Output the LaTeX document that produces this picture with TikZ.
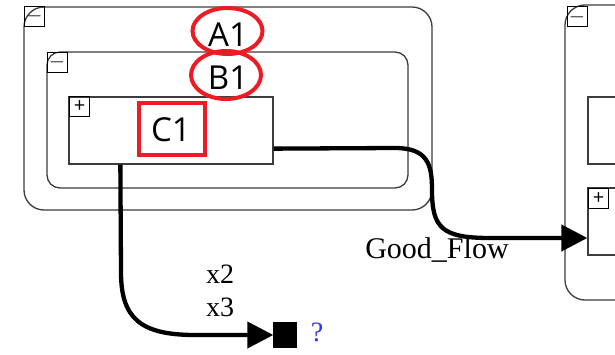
\documentclass[tikz,border=0pt]{standalone}
\usepackage{fontspec}
\setmainfont{Liberation Serif}
\newfontfamily\uifont{Open Sans}
\usetikzlibrary{arrows.meta,calc}
\definecolor{boxline}{RGB}{60,60,60}
\definecolor{markred}{RGB}{237,28,36}
\definecolor{qblue}{RGB}{50,50,255}
\tikzset{
  group/.style={draw=boxline,line width=1.3pt,inner sep=0pt},
  toggle/.style={draw=black,line width=1pt,minimum width=20pt,minimum height=20pt,inner sep=0pt,font=\uifont\fontsize{20}{20}\selectfont},
  bigname/.style={font=\uifont\fontsize{33}{33}\selectfont,inner sep=0pt},
  flow/.style={line width=4.3pt,-{Triangle[length=26pt,width=26pt]}},
  flowlabel/.style={font=\fontsize{28}{28}\selectfont,inner sep=0pt}
}
\begin{document}
\begin{tikzpicture}[x=1pt,y=-1pt]
\useasboundingbox (0,0) rectangle (615,355);
\clip (0,0) rectangle (615,355);
% groups
\node[group,rounded corners=20pt,minimum width=408pt,minimum height=203pt] (A) at (228,108.5) {};
\node[group,rounded corners=13pt,minimum width=361pt,minimum height=136pt] (B) at (227.5,120) {};
\node[group,minimum width=204pt,minimum height=67pt] (C) at (171,130.5) {};
\node[group,rounded corners=20pt,minimum width=100pt,minimum height=295pt] (R) at (615,152.5) {};
\node[group,minimum width=80pt,minimum height=67pt] (R1) at (628,130.5) {};
\node[group,minimum width=80pt,minimum height=67pt] (R2) at (628,221.5) {};
% toggles
\node[toggle] (tA) at (34.5,16.5) {$-$};
\node[toggle] (tB) at (57,62.5) {$-$};
\node[toggle] (tC) at (79.5,107) {+};
\node[toggle] (tR) at (577,17) {$-$};
\node[toggle,anchor=north west] (tR2) at (588,188) {+};
% names
\node[bigname] (nA) at (228,35) {A1};
\node[bigname] (nB) at (228,78) {B1};
\node[bigname] (nC) at (171,130) {C1};
\draw[markred,line width=4pt] (227.5,31) ellipse (35pt and 23pt);
\draw[markred,line width=4pt] (226,75) ellipse (35pt and 24pt);
\draw[markred,line width=4pt] (139,103) rectangle (205,155);
% flows
\coordinate (gfStart) at ($(C.south east)+(0,-16)$);
\coordinate (gfEnd) at ($(R2.west)+(0,16.5)$);
\draw[flow] (gfStart) -- (395,148) .. controls (428,148) and (432,165) .. (432,190)
  .. controls (432,228) and (442,238) .. (490,238) -- (gfEnd);
\node[font=\fontsize{30}{30}\selectfont,inner sep=0pt] (gfl) at (437,250) {Good\_Flow};
\node[draw=black,fill=black,minimum width=23pt,minimum height=25pt,inner sep=0pt] (S) at (285,335) {};
\coordinate (xStart) at ($(C.south west)+(52,0)$);
\draw[flow] (xStart) -- (121,272) .. controls (121,318) and (140,335) .. (195,335) -- (S.west);
\node[flowlabel] (x2) at (220,274) {x2};
\node[flowlabel] (x3) at (220,307) {x3};
\node[font=\fontsize{28}{28}\selectfont,text=qblue,inner sep=0pt] (q) at (317,332) {?};
\end{tikzpicture}
\end{document}
